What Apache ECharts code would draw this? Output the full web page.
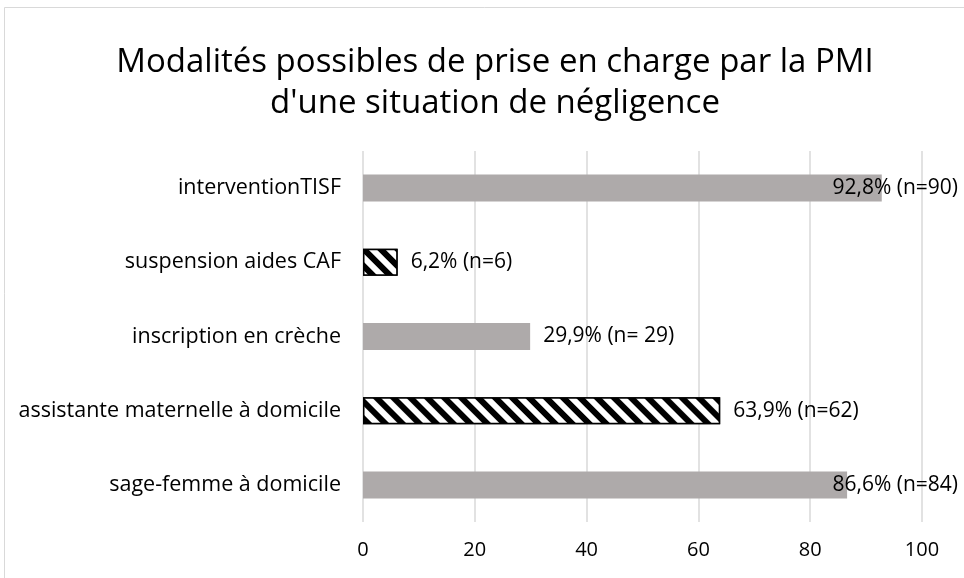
<!DOCTYPE html>
<html>
<head>
<meta charset="utf-8">
<script src="https://cdn.jsdelivr.net/npm/echarts@6/dist/echarts.min.js"></script>
<style>
  html, body { margin: 0; padding: 0; background: #fff; }
  #chart { width: 964px; height: 578px; }
</style>
</head>
<body>
<div id="chart"></div>
<script>
  // données (de haut en bas)
  var categories = ['interventionTISF', 'suspension aides CAF', 'inscription en crèche', 'assistante maternelle à domicile', 'sage-femme à domicile'];
  var values = [92.8, 6.2, 29.9, 63.9, 86.6];
  var counts = [90, 6, ' 29', 62, 84];
  var hatched = [false, true, false, true, false];
  var xTicks = [0, 20, 40, 60, 80, 100];

  var font = '"Open Sans", sans-serif';
  var chart = echarts.init(document.getElementById('chart'));

  var hatch = {
    symbol: 'rect',
    symbolSize: 1,
    dashArrayX: [1, 0],
    dashArrayY: [6, 6],
    rotation: Math.PI / 4,
    color: '#000',
    backgroundColor: '#fff'
  };

  var data = values.map(function (v, i) {
    var item = { value: v };
    if (hatched[i]) {
      item.itemStyle = { color: '#fff', borderColor: '#000', borderWidth: 1.5, decal: hatch };
    }
    return item;
  });

  var option = {
    animation: false,
    backgroundColor: '#fff',
    graphic: [{
      type: 'rect',
      shape: { x: 4.5, y: 7.5, width: 970, height: 600 },
      style: { fill: 'none', stroke: '#D9D9D9', lineWidth: 1 },
      silent: true
    }],
    title: {
      text: "Modalités possibles de prise en charge par la PMI\nd'une situation de négligence",
      left: 490,
      textAlign: 'center',
      top: 37,
      textStyle: { fontFamily: font, fontSize: 33, fontWeight: 'normal', color: '#000', lineHeight: 41 }
    },
    grid: { left: 363, right: 42, top: 151, height: 371, containLabel: false },
    xAxis: {
      type: 'value',
      min: 0, max: 100, interval: 20,
      axisLine: { show: false },
      axisTick: { show: false },
      splitLine: { lineStyle: { color: '#D9D9D9', width: 1.5 } },
      axisLabel: {
        margin: 18,
        color: '#000',
        fontFamily: font,
        fontSize: 20,
        formatter: function (v) { return xTicks.indexOf(v) >= 0 ? String(v) : ''; }
      }
    },
    yAxis: {
      type: 'category',
      inverse: true,
      data: categories,
      axisLine: { show: false },
      axisTick: { show: false },
      axisLabel: { margin: 22, color: '#000', fontFamily: font, fontSize: 21.5 }
    },
    series: [{
      type: 'bar',
      data: data,
      barWidth: 27,
      itemStyle: { color: '#AEAAAA' },
      label: {
        show: true,
        position: 'right',
        distance: 13,
        color: '#000',
        fontFamily: font,
        fontSize: 21,
        formatter: function (p) {
          return String(values[p.dataIndex]).replace('.', ',') + '% (n=' + counts[p.dataIndex] + ')';
        }
      },
      labelLayout: function (p) {
        var r = p.labelRect;
        if (r.x + r.width > 958) {
          return { x: 958, y: r.y + r.height / 2, align: 'right', verticalAlign: 'middle' };
        }
        return {};
      }
    }]
  };
  option && chart.setOption(option);
</script>
</body>
</html>
